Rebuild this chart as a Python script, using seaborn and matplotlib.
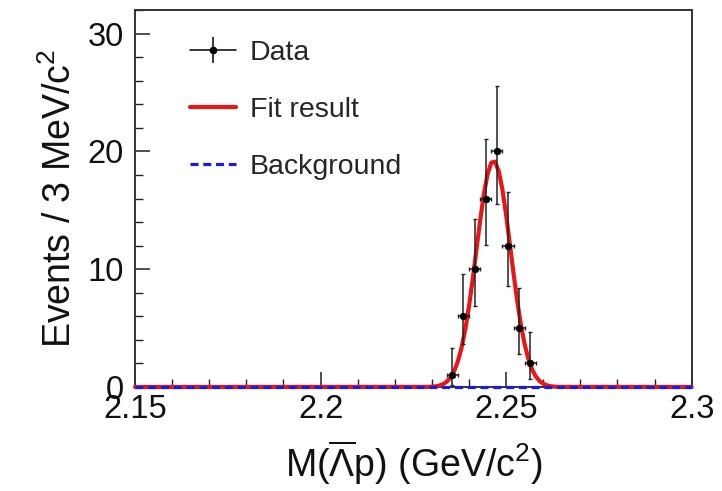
import numpy as np
import pandas as pd
import matplotlib
matplotlib.use("Agg")
import matplotlib.pyplot as plt
from matplotlib.lines import Line2D
from matplotlib.ticker import MultipleLocator, FixedLocator, FixedFormatter
import seaborn as sns

# ---- data ----
bin_centers = [2.2355, 2.2385, 2.2415, 2.2445, 2.2475, 2.2505, 2.2535, 2.2565]
counts = [1, 6, 10, 16, 20, 12, 5, 2]
err_low = [0.83, 2.38, 3.11, 3.95, 4.43, 3.43, 2.16, 1.29]
err_high = [2.30, 3.58, 4.27, 5.08, 5.55, 4.56, 3.38, 2.64]
bin_half_width = 0.0015

fit_x = [2.150, 2.229, 2.230, 2.231, 2.232, 2.233, 2.234, 2.235, 2.236, 2.237,
         2.238, 2.239, 2.240, 2.241, 2.242, 2.243, 2.244, 2.245, 2.246, 2.247,
         2.248, 2.249, 2.250, 2.251, 2.252, 2.253, 2.254, 2.255, 2.256, 2.257,
         2.258, 2.259, 2.260, 2.261, 2.262, 2.263, 2.264, 2.300]
fit_y = [0.0, 0.01, 0.03, 0.06, 0.12, 0.24, 0.45, 0.80, 1.35, 2.18,
         3.34, 4.90, 6.86, 9.15, 11.65, 14.13, 16.37, 18.07, 19.04, 19.13,
         18.33, 16.76, 14.61, 12.15, 9.64, 7.29, 5.26, 3.62, 2.38, 1.49,
         0.89, 0.51, 0.28, 0.14, 0.07, 0.03, 0.01, 0.0]

bkg_x = [2.15, 2.30]
bkg_y = [0.0, 0.0]

x_ticks = [2.15, 2.20, 2.25, 2.30]
x_tick_labels = ["2.15", "2.2", "2.25", "2.3"]
y_ticks = [0, 10, 20, 30]
y_tick_labels = ["0", "10", "20", "30"]

# ---- style ----
sns.set_style("ticks")
plt.rcParams["font.family"] = ["Liberation Sans", "DejaVu Sans"]
plt.rcParams["mathtext.fontset"] = "custom"
plt.rcParams["mathtext.rm"] = "Liberation Sans"
plt.rcParams["mathtext.it"] = "Liberation Sans:italic"
plt.rcParams["mathtext.bf"] = "Liberation Sans:bold"

fig = plt.figure(figsize=(7.22, 4.91), dpi=100)
ax = fig.add_axes([0.187, 0.2118, 0.771, 0.7678])

red = "#ec1515"
blue = "#1a1ae6"
bkg_dash = (0, (2.5, 1.5))

fit_df = pd.DataFrame({"x": fit_x, "y": fit_y})
bkg_df = pd.DataFrame({"x": bkg_x, "y": bkg_y})

sns.lineplot(data=fit_df, x="x", y="y", ax=ax, color=red, lw=3.0,
             zorder=3, clip_on=False)
sns.lineplot(data=bkg_df, x="x", y="y", ax=ax, color=blue, lw=2.3,
             dashes=False, zorder=4, clip_on=False)
ax.lines[-1].set_linestyle(bkg_dash)

ax.errorbar(bin_centers, counts, yerr=[err_low, err_high],
            xerr=bin_half_width, fmt="none", ecolor="#222222",
            elinewidth=1.1, capsize=1.5, capthick=1.0, zorder=5)
sns.scatterplot(x=bin_centers, y=counts, ax=ax, color="black", s=24,
                edgecolor="black", zorder=6)

ax.set_xlim(2.15, 2.30)
ax.set_ylim(0, 32)

ax.xaxis.set_major_locator(FixedLocator(x_ticks))
ax.xaxis.set_major_formatter(FixedFormatter(x_tick_labels))
ax.xaxis.set_minor_locator(MultipleLocator(0.01))
ax.yaxis.set_major_locator(FixedLocator(y_ticks))
ax.yaxis.set_major_formatter(FixedFormatter(y_tick_labels))
ax.yaxis.set_minor_locator(MultipleLocator(2))

ax.tick_params(axis="both", which="both", direction="in", top=False,
               right=False, colors="#222222", labelcolor="#111111")
ax.tick_params(axis="both", which="major", length=11, width=1.1,
               labelsize=23.5)
ax.tick_params(axis="both", which="minor", length=6, width=1.0)
ax.tick_params(axis="x", which="major", pad=5)
ax.tick_params(axis="y", which="major", pad=8)

for s in ax.spines.values():
    s.set_visible(True)
    s.set_linewidth(1.4)
    s.set_color("#333333")

ax.set_xlabel(r"M($\overline{\mathrm{\Lambda}}$p) (GeV/c$^{2}$)",
              fontsize=27, color="#111111", labelpad=10)
ax.set_ylabel(r"Events / 3 MeV/c$^{2}$", fontsize=27, color="#111111",
              labelpad=6)

data_line = Line2D([], [], color="black", lw=1.1, marker="o", ms=4.5)
data_vbar = Line2D([], [], color="black", ls="none", marker="|", ms=18.5,
                   mew=1.1)
fit_handle = Line2D([], [], color=red, lw=3.0)
bkg_handle = Line2D([], [], color=blue, lw=2.3, linestyle=bkg_dash)
ax.legend([(data_line, data_vbar), fit_handle, bkg_handle],
          ["Data", "Fit result", "Background"],
          loc="upper left", bbox_to_anchor=(0.078, 0.9506), frameon=False,
          fontsize=20.5, handlelength=1.61, handletextpad=0.49,
          labelspacing=1.09, borderaxespad=0)

fig.savefig("out.png", dpi=100)
